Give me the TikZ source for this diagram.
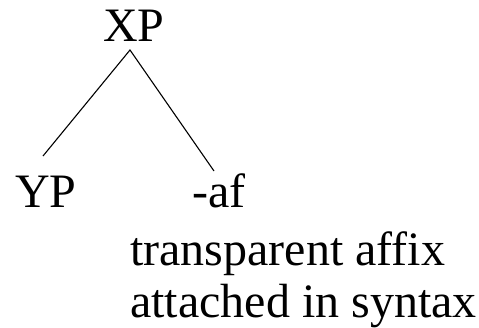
\documentclass[tikz,border=0pt]{standalone}
\usepackage{fontspec}
\setmainfont{Liberation Serif}
\begin{document}
\begin{tikzpicture}[x=1pt,y=-1pt,
  lbl/.style={inner sep=0pt,anchor=base west,font=\fontsize{48}{48}\selectfont},
  edge/.style={line width=1.1pt}]
\useasboundingbox (0,0) rectangle (479,327);
\node[lbl] (xp) at (103,41) {XP};
\node[lbl] (yp) at (15,207) {YP};
\node[lbl] (af) at (192,207) {-af};
\node[lbl] (t1) at (130,265) {transparent affix};
\node[lbl] (t2) at (130,317) {attached in syntax};
\coordinate (apex) at (130,50);
\coordinate (lend) at (43,156);
\coordinate (rend) at (214,171);
\draw[edge] (lend) -- (apex) -- (rend);
\end{tikzpicture}
\end{document}
